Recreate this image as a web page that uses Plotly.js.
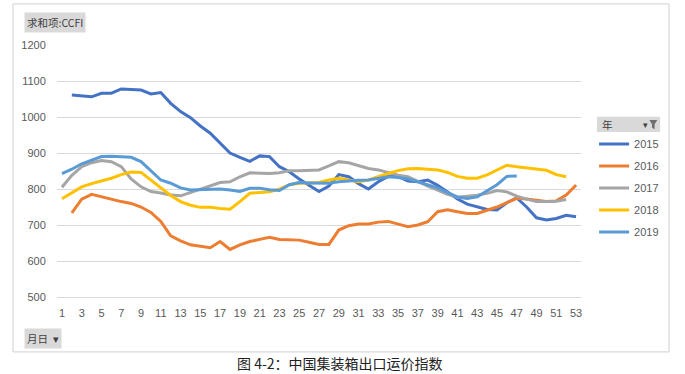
<!DOCTYPE html>
<html>
<head>
<meta charset="utf-8">
<script src="https://cdn.plot.ly/plotly-3.0.1.min.js"></script>
<style>
html,body{margin:0;padding:0;background:#fff;}
#chart{width:685px;height:374px;}
</style>
</head>
<body>
<div id="chart"></div>
<script>
const weeks = [1,2,3,4,5,6,7,8,9,10,11,12,13,14,15,16,17,18,19,20,21,22,23,24,25,26,27,28,29,30,31,32,33,34,35,36,37,38,39,40,41,42,43,44,45,46,47,48,49,50,51,52,53];
const tickWeeks = [1,3,5,7,9,11,13,15,17,19,21,23,25,27,29,31,33,35,37,39,41,43,45,47,49,51,53];
const seriesNames = ['2015','2016','2017','2018','2019'];
const ccfi2015 = [null,1061,1058,1056,1066,1066,1078,1077,1075,1064,1068,1038,1015,998,975,955,927,900,888,877,892,890,862,848,828,810,793,808,840,834,815,800,820,835,835,822,820,825,810,792,772,758,750,743,742,762,775,750,720,714,718,727,723];
const ccfi2016 = [null,734,772,785,778,770,765,760,750,735,710,670,656,645,640,637,654,632,645,654,660,666,660,658,658,652,646,646,686,698,703,703,708,710,703,695,700,709,737,742,737,732,732,740,750,762,774,772,768,765,767,783,811];
const ccfi2017 = [805,838,862,873,879,876,862,828,806,793,789,783,781,790,800,808,818,820,834,845,843,843,845,851,851,852,853,864,876,873,865,857,853,845,838,834,820,808,797,785,777,779,783,788,796,792,780,772,765,765,766,771,null];
const ccfi2018 = [773,790,806,815,822,830,840,847,846,825,802,782,765,755,749,749,746,744,765,788,790,792,800,812,816,816,818,825,830,825,820,825,835,843,851,856,857,854,853,846,835,830,830,839,853,866,862,858,855,852,840,834,null];
const ccfi2019 = [843,855,870,880,890,891,889,888,876,850,825,816,803,797,798,801,800,797,793,802,802,798,796,812,818,817,816,816,820,823,824,825,830,834,832,828,820,812,803,790,778,774,778,795,812,835,836,null,null,null,null,null,null];

const allSeries = [ccfi2015, ccfi2016, ccfi2017, ccfi2018, ccfi2019];
const colors = ['#4472C4','#ED7D31','#A5A5A5','#FFC000','#5B9BD5'];

const traces = allSeries.map((vals, i) => ({
  type: 'scatter',
  mode: 'lines',
  x: weeks,
  y: vals,
  name: seriesNames[i],
  legendgroup: seriesNames[i],
  line: {color: colors[i], width: 3},
  connectgaps: false,
  hoverinfo: 'skip'
}));

const tickFont = {family: 'Liberation Sans, Arial, sans-serif', size: 11, color: '#595959'};
const cjk = 'Noto Sans CJK SC, sans-serif';

const layout = {
  width: 685,
  height: 374,
  margin: {l: 57, r: 104, t: 45, b: 77},
  paper_bgcolor: '#ffffff',
  plot_bgcolor: '#ffffff',
  showlegend: true,
  legend: {
    x: 1.025, y: 0.665, xanchor: 'left', yanchor: 'top',
    font: {family: 'Liberation Sans, Arial, sans-serif', size: 11, color: '#595959'},
    tracegroupgap: 3,
    bgcolor: 'rgba(0,0,0,0)'
  },
  xaxis: {
    range: [0.5, 53.5],
    tickmode: 'array',
    tickvals: tickWeeks,
    ticktext: tickWeeks.map(String),
    ticks: 'outside', ticklen: 6, tickcolor: 'rgba(0,0,0,0)',
    showgrid: false,
    zeroline: false,
    showline: true, linecolor: '#D9D9D9', linewidth: 1,
    tickfont: tickFont,
    fixedrange: true
  },
  yaxis: {
    range: [500, 1200],
    tickmode: 'array',
    tickvals: [500,600,700,800,900,1000,1100,1200],
    ticks: 'outside', ticklen: 8, tickcolor: 'rgba(0,0,0,0)',
    showgrid: true, gridcolor: '#D9D9D9', gridwidth: 1,
    zeroline: false,
    showline: false,
    tickfont: tickFont,
    fixedrange: true
  },
  shapes: [
    {type: 'rect', xref: 'paper', yref: 'paper', x0: -0.084, x1: 1.168, y0: -0.218, y1: 1.163,
     line: {color: '#D0D0D0', width: 1}, fillcolor: 'rgba(0,0,0,0)', layer: 'below'},
    {type: 'rect', xref: 'paper', yref: 'paper', x0: 1.0305, x1: 1.151, y0: 0.655, y1: 0.715,
     line: {width: 0}, fillcolor: '#D9D9D9', layer: 'below'},
    {type: 'path', xref: 'paper', yref: 'paper',
     path: 'M 1.1305 0.702 L 1.1455 0.702 L 1.1405 0.686 L 1.1405 0.666 L 1.1355 0.672 L 1.1355 0.686 Z',
     line: {width: 0}, fillcolor: '#707070'}
  ],
  annotations: [
    {xref: 'paper', yref: 'paper', x: -0.063, y: 1.131, xanchor: 'left', yanchor: 'top',
     text: '求和项:CCFI', showarrow: false, bgcolor: '#D9D9D9', borderpad: 2,
     font: {family: cjk, size: 10.5, color: '#404040'}},
    {xref: 'paper', yref: 'paper', x: 1.037, y: 0.686, xanchor: 'left', yanchor: 'middle',
     text: '年', showarrow: false,
     font: {family: cjk, size: 10.5, color: '#404040'}},
    {xref: 'paper', yref: 'paper', x: 1.131, y: 0.681, xanchor: 'right', yanchor: 'middle',
     text: '▾', showarrow: false,
     font: {family: 'DejaVu Sans, sans-serif', size: 9, color: '#404040'}},
    {xref: 'paper', yref: 'paper', x: -0.063, y: -0.123, xanchor: 'left', yanchor: 'top',
     text: '月日  ▾', showarrow: false, bgcolor: '#D9D9D9', borderpad: 2,
     font: {family: cjk, size: 10.5, color: '#404040'}},
    {xref: 'paper', yref: 'paper', x: 0.54, y: -0.262, xanchor: 'center', yanchor: 'middle',
     text: '图 4-2：中国集装箱出口运价指数', showarrow: false,
     font: {family: cjk, size: 14, color: '#222222'}}
  ]
};

Plotly.newPlot('chart', traces, layout, {staticPlot: true, displayModeBar: false});
</script>
</body>
</html>
